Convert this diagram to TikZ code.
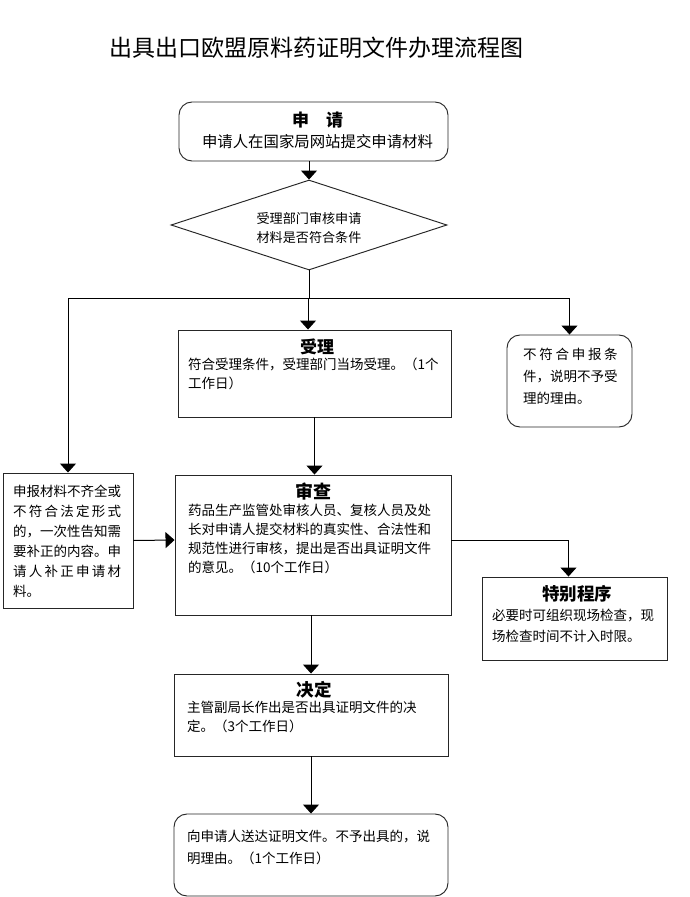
\documentclass[tikz,border=0pt]{standalone}
\usepackage{fontspec}
\setmainfont{Noto Sans CJK SC}
\usetikzlibrary{arrows.meta,shapes.geometric,calc}
\tikzset{
  box/.style={draw=black!85, line width=0.95pt, rectangle, inner sep=0pt},
  rbox/.style={box, rounded corners=13pt},
  body/.style={anchor=north west, align=left, inner sep=0pt, font=\fontsize{13.5}{19}\selectfont},
  ttl/.style={inner sep=0pt, font=\fontsize{17.5}{20}\selectfont\bfseries},
  arr/.style={line width=1pt, -{Triangle[width=16pt,length=9pt]}},
  ln/.style={line width=1pt}
}
\begin{document}
\begin{tikzpicture}[x=1pt,y=-1pt]
\fill[white] (0,0) rectangle (690,897);
\useasboundingbox (0,0) rectangle (690,897);

% title
\node[inner sep=0pt, font=\fontsize{23}{26}\selectfont] (title) at (316.5,48) {出具出口欧盟原料药证明文件办理流程图};

% 申请
\node[rbox, minimum width=269pt, minimum height=59pt] (shenqing) at (313.5,131.5) {};
\node[ttl, font=\fontsize{17}{20}\selectfont\bfseries] (shenqingT) at (317.5,120) {申　请};
\node[inner sep=0pt, font=\fontsize{15.4}{18}\selectfont] (shenqingB) at (317.5,142) {申请人在国家局网站提交申请材料};

% diamond
\node[draw=black!85, line width=0.95pt, diamond, minimum width=276pt, minimum height=90pt, inner sep=0pt] (diam) at (309,225) {};
\node[inner sep=0pt, align=center, font=\fontsize{13.1}{19}\selectfont] (diamT) at (309,227.5) {受理部门审核申请\\材料是否符合条件};

% 受理
\node[box, minimum width=273pt, minimum height=87pt] (shouli) at (314.5,373.5) {};
\node[ttl, font=\fontsize{17}{20}\selectfont\bfseries] (shouliT) at (317,347) {受理};
\node[body] (shouliB) at (188,358) {符合受理条件，受理部门当场受理。（1个\\工作日）};

% 不符合
\node[rbox, minimum width=125pt, minimum height=92pt] (bufuhe) at (569.5,381) {};
\node[body, font=\fontsize{13.5}{22}\selectfont] (bufuheB) at (523,348) {\hbox to 94.5pt{不\hfill 符\hfill 合\hfill 申\hfill 报\hfill 条}\\件，说明不予受\\理的理由。};

% left box
\node[box, minimum width=130pt, minimum height=135pt] (buqi) at (68,540.5) {};
\node[body, font=\fontsize{13.5}{20}\selectfont] (buqiB) at (13,485) {\hbox to 108pt{申\hfill 报\hfill 材\hfill 料\hfill 不\hfill 齐\hfill 全\hfill 或}\\
\hbox to 108pt{不\hfill 符\hfill 合\hfill 法\hfill 定\hfill 形\hfill 式}\\
\hbox to 108pt{的，\hfill 一\hfill 次\hfill 性\hfill 告\hfill 知\hfill 需}\\
\hbox to 108pt{要\hfill 补\hfill 正\hfill 的\hfill 内\hfill 容。\hfill 申}\\
\hbox to 108pt{请\hfill 人\hfill 补\hfill 正\hfill 申\hfill 请\hfill 材}\\
料。};

% 审查
\node[box, minimum width=276pt, minimum height=140pt] (shencha) at (313,545) {};
\node[ttl, font=\fontsize{18}{20}\selectfont\bfseries] (shenchaT) at (313,492) {审查};
\node[body] (shenchaB) at (188,504) {药品生产监管处审核人员、复核人员及处\\长对申请人提交材料的真实性、合法性和\\规范性进行审核，提出是否出具证明文件\\的意见。（10个工作日）};

% 特别程序
\node[box, minimum width=185pt, minimum height=83pt] (tebie) at (574.5,618.5) {};
\node[ttl] (tebieT) at (577,594) {特别程序};
\node[body, font=\fontsize{13.5}{21}\selectfont] (tebieB) at (492,609) {必要时可组织现场检查，现\\场检查时间不计入时限。};

% 决定
\node[box, minimum width=274pt, minimum height=82pt] (jueding) at (311,715) {};
\node[ttl] (juedingT) at (314,690) {决定};
\node[body] (juedingB) at (187,701) {主管副局长作出是否出具证明文件的决\\定。（3个工作日）};

% final
\node[rbox, minimum width=274pt, minimum height=82pt] (songda) at (311,855) {};
\node[body, font=\fontsize{13.5}{22}\selectfont] (songdaB) at (187,830) {向申请人送达证明文件。不予出具的，说\\明理由。（1个工作日）};

% junction coordinates
\coordinate (jL) at (68,298);
\coordinate (jR) at (569.5,298);
\coordinate (jM) at (308,298);

% connectors
\draw[arr] (shenqing.south -| diam.north) -- (diam.north);
\draw[ln] (diam.south) -- (diam.south |- jM);
\draw[ln] (jL) -- (jR);
\draw[arr] (jL) -- (buqi.north);
\draw[arr] (jR) -- (bufuhe.north);
\draw[arr] (jM) -- (jM |- shouli.north);
\draw[arr] (shouli.south) -- (shouli.south |- shencha.north);
\draw[arr] (buqi.east) -- ([yshift=5pt]shencha.west);
\draw[arr] ([yshift=4.5pt]shencha.east) -| ([xshift=-6pt]tebie.north);
\draw[arr] (shencha.south -| jueding.north) -- (jueding.north);
\draw[arr] (jueding.south) -- (songda.north);
\end{tikzpicture}
\end{document}
